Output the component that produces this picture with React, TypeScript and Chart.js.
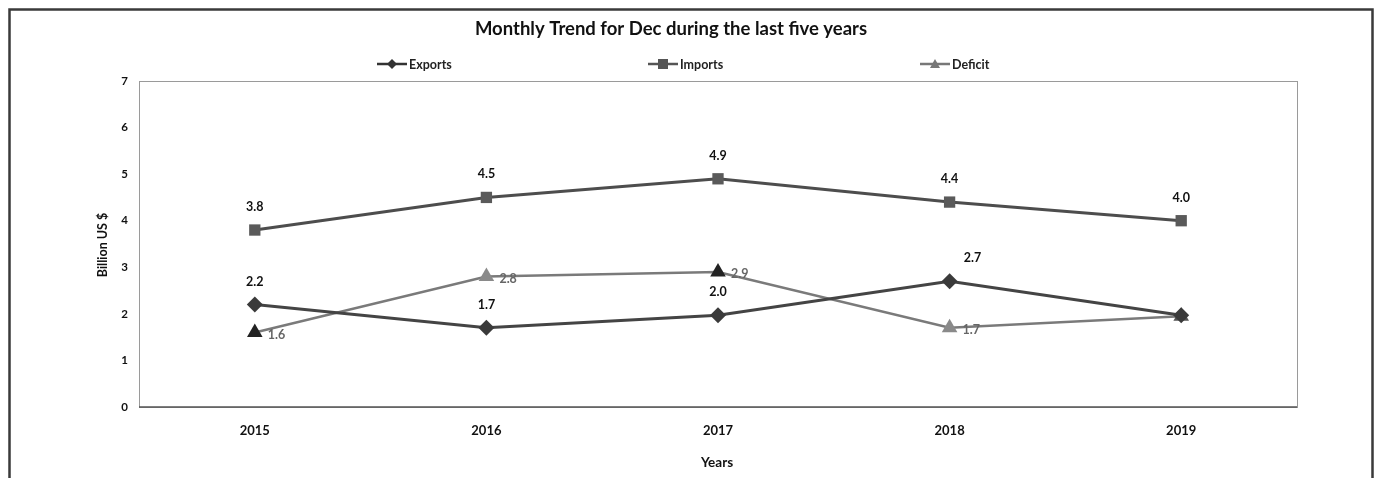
import React, { useEffect, useRef } from "react";
import { Chart, registerables } from "chart.js";

Chart.register(...registerables);

const years = ["2015", "2016", "2017", "2018", "2019"];
const exportsData = [2.2, 1.7, 1.97, 2.7, 1.97];
const importsData = [3.8, 4.5, 4.9, 4.4, 4.0];
const deficitData = [1.6, 2.8, 2.9, 1.7, 1.95];
const exportsLabels = ["2.2", "1.7", "2.0", "2.7", ""];
const importsLabels = ["3.8", "4.5", "4.9", "4.4", "4.0"];
const deficitLabels = ["1.6", "2.8", "2.9", "1.7", ""];
const yTicks = [0, 1, 2, 3, 4, 5, 6, 7];

const FONT = "Lato, 'Open Sans', sans-serif";

function drawMarker(ctx: CanvasRenderingContext2D, kind: string, x: number, y: number, r: number, color: string) {
  ctx.save();
  ctx.fillStyle = color;
  ctx.beginPath();
  if (kind === "rect") {
    ctx.rect(x - r, y - r, 2 * r, 2 * r);
  } else if (kind === "rectRot") {
    ctx.moveTo(x, y - r);
    ctx.lineTo(x + r, y);
    ctx.lineTo(x, y + r);
    ctx.lineTo(x - r, y);
    ctx.closePath();
  } else {
    ctx.moveTo(x, y - r);
    ctx.lineTo(x + r, y + r * 0.8);
    ctx.lineTo(x - r, y + r * 0.8);
    ctx.closePath();
  }
  ctx.fill();
  ctx.restore();
}

const decorPlugin = {
  id: "decor",
  beforeDraw(chart: any) {
    const { ctx, chartArea, width, height } = chart;
    ctx.save();
    ctx.fillStyle = "#fff";
    ctx.fillRect(0, 0, width, height);
    // outer frame
    ctx.strokeStyle = "#3a3a3a";
    ctx.lineWidth = 2.5;
    ctx.beginPath();
    ctx.moveTo(1.5, height);
    ctx.lineTo(1.5, 1.5);
    ctx.lineTo(width - 1.5, 1.5);
    ctx.lineTo(width - 1.5, height);
    ctx.stroke();
    // plot area border
    ctx.strokeStyle = "#9a9a9a";
    ctx.lineWidth = 1;
    ctx.strokeRect(chartArea.left + 0.5, chartArea.top + 0.5, chartArea.right - chartArea.left, chartArea.bottom - chartArea.top);
    ctx.strokeStyle = "#555";
    ctx.lineWidth = 1.5;
    ctx.beginPath();
    ctx.moveTo(chartArea.left, chartArea.bottom);
    ctx.lineTo(chartArea.right, chartArea.bottom);
    ctx.stroke();
    ctx.restore();
  },
  afterDraw(chart: any) {
    const { ctx } = chart;
    ctx.save();
    ctx.fillStyle = "#111";
    ctx.textAlign = "center";
    ctx.textBaseline = "middle";
    ctx.font = `bold 18.5px ${FONT}`;
    ctx.fillText("Monthly Trend for Dec during the last five years", 663, 21);

    // legend
    const items = [
      { label: "Exports", kind: "rectRot", color: "#333", x: 369 },
      { label: "Imports", kind: "rect", color: "#555", x: 640 },
      { label: "Deficit", kind: "triangle", color: "#777", x: 912 },
    ];
    ctx.font = `bold 12.5px ${FONT}`;
    ctx.textAlign = "left";
    items.forEach((it) => {
      const y = 56;
      ctx.strokeStyle = it.color;
      ctx.lineWidth = 2.5;
      ctx.beginPath();
      ctx.moveTo(it.x, y);
      ctx.lineTo(it.x + 30, y);
      ctx.stroke();
      drawMarker(ctx, it.kind, it.x + 15, y, 5, it.color);
      ctx.fillStyle = "#222";
      ctx.fillText(it.label, it.x + 32, y + 1);
    });

    // axis titles
    ctx.fillStyle = "#111";
    ctx.textAlign = "center";
    ctx.font = `bold 13.5px ${FONT}`;
    ctx.fillText("Years", 709, 455);
    ctx.save();
    ctx.translate(95, 237);
    ctx.rotate(-Math.PI / 2);
    ctx.font = `bold 12.5px ${FONT}`;
    ctx.fillText("Billion US $", 0, 0);
    ctx.restore();

    // data labels
    const labelSets = [exportsLabels, importsLabels, deficitLabels];
    ctx.font = `bold 12.5px ${FONT}`;
    chart.data.datasets.forEach((ds: any, di: number) => {
      const meta = chart.getDatasetMeta(di);
      meta.data.forEach((pt: any, i: number) => {
        const txt = labelSets[di][i];
        if (!txt) return;
        if (di === 2) {
          ctx.fillStyle = "#666";
          ctx.textAlign = "left";
          ctx.fillText(txt, pt.x + 13, pt.y + 2);
        } else {
          ctx.fillStyle = "#111";
          ctx.textAlign = "center";
          ctx.fillText(txt, pt.x + (di === 0 && i === 3 ? 23 : 0), pt.y - 23);
        }
      });
    });
    ctx.restore();
  },
};

export default function App() {
  const ref = useRef<HTMLCanvasElement>(null);
  useEffect(() => {
    if (!ref.current) return;
    const chart = new Chart(ref.current, {
      type: "line",
      data: {
        labels: years,
        datasets: [
          {
            label: "Exports",
            data: exportsData,
            borderColor: "#444",
            backgroundColor: "#333",
            borderWidth: 3,
            pointStyle: "rectRot",
            pointRadius: 8,
            pointBorderWidth: 0,
            pointBackgroundColor: "#3a3a3a",
          },
          {
            label: "Imports",
            data: importsData,
            borderColor: "#4d4d4d",
            backgroundColor: "#555",
            borderWidth: 3,
            pointStyle: "rect",
            pointRadius: 8,
            pointBorderWidth: 0,
            pointBackgroundColor: "#5a5a5a",
          },
          {
            label: "Deficit",
            data: deficitData,
            borderColor: "#7a7a7a",
            backgroundColor: "#777",
            borderWidth: 2.5,
            pointStyle: "triangle",
            pointRadius: 9,
            pointBorderWidth: 0,
            pointBackgroundColor: ["#222", "#8a8a8a", "#222", "#8a8a8a", "#555"],
          },
        ],
      },
      options: {
        animation: false,
        responsive: false,
        layout: { padding: { left: 0, right: 77, top: 73, bottom: 0 } },
        plugins: { legend: { display: false }, title: { display: false }, tooltip: { enabled: false } },
        scales: {
          x: {
            offset: true,
            grid: { display: false, drawTicks: false },
            border: { display: false },
            ticks: { color: "#111", font: { family: FONT, size: 13, weight: "bold" }, padding: 16, maxRotation: 0 },
            afterFit: (s: any) => { s.height = 71; },
          },
          y: {
            min: 0,
            max: 7,
            afterBuildTicks: (s: any) => { s.ticks = yTicks.map((v) => ({ value: v })); },
            grid: { display: false, drawTicks: false },
            border: { display: false },
            ticks: { color: "#111", font: { family: FONT, size: 11.5, weight: "bold" }, padding: 11 },
            afterFit: (s: any) => { s.width = 131; },
          },
        },
      },
      plugins: [decorPlugin],
    } as any);
    return () => chart.destroy();
  }, []);
  return <canvas ref={ref} width={1366} height={470} style={{ display: "block" }} />;
}
